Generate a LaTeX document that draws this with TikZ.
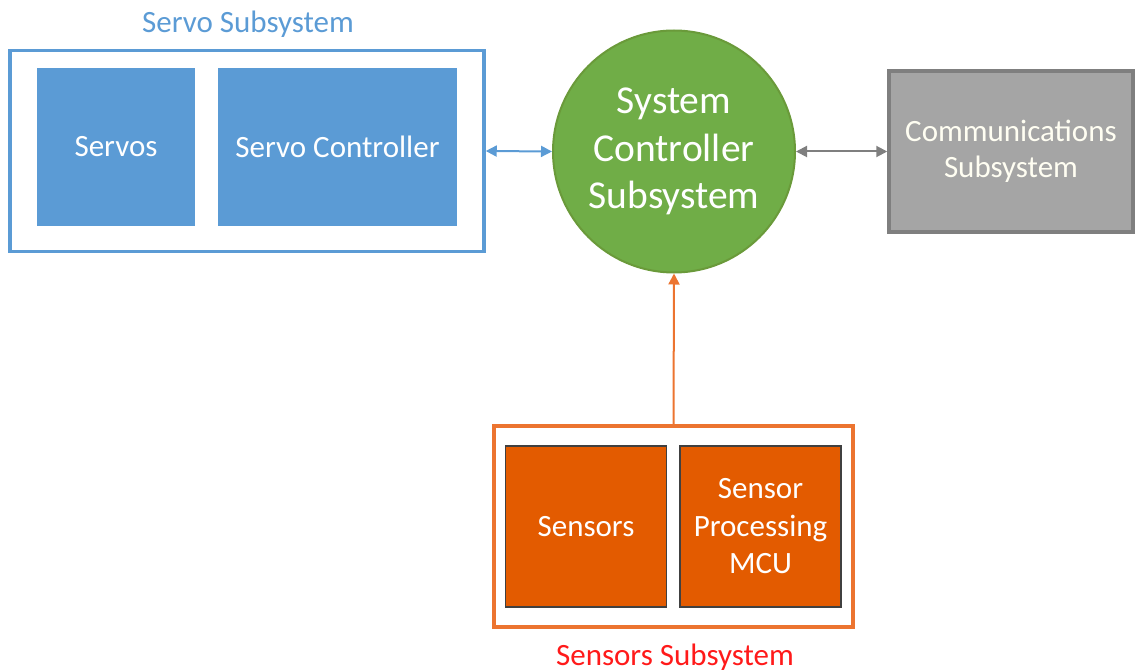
\documentclass[tikz,border=0pt]{standalone}
\usepackage{fontspec}
\setmainfont{Carlito}
\usetikzlibrary{arrows.meta}
\definecolor{servoblue}{HTML}{5B9BD5}
\definecolor{ctrlgreen}{HTML}{70AD47}
\definecolor{ctrlrim}{HTML}{6A9A3A}
\definecolor{commgray}{HTML}{A5A5A5}
\definecolor{commrim}{HTML}{7F7F7F}
\definecolor{sensorfill}{HTML}{E35B00}
\definecolor{sensorrim}{HTML}{EC7430}
\definecolor{labelred}{HTML}{FF1A1A}

\begin{document}
\begin{tikzpicture}[x=1pt, y=-1pt, >={Triangle[length=11pt,width=11pt]},
  txt/.style={font=\fontsize{31}{37}\selectfont, align=center, inner sep=0pt},
  servobox/.style={txt, fill=servoblue, text=white, minimum height=158pt},
  sensorbox/.style={txt, fill=sensorfill, draw=black!75, line width=1.5pt, text=white,
    minimum width=161pt, minimum height=161pt},
  groupbox/.style={draw=#1, line width=3.5pt, fill=white, minimum height=201pt}]
\useasboundingbox (0,0) rectangle (1138,671);
\node[groupbox=servoblue, minimum width=474pt] (servosys) at (247,151) {};
\node[servobox, minimum width=158pt] (servos) at (116,147) {Servos};
\node[servobox, minimum width=239pt] (servoctl) at (337.5,147) {Servo Controller};
\node[txt, anchor=base, text=servoblue] (servolabel) at (248,33) {Servo Subsystem};
\node[circle, fill=ctrlgreen, draw=ctrlrim, line width=2pt, minimum size=242pt,
  text=white, align=center, inner sep=0pt, font=\fontsize{39.5}{47.5}\selectfont]
  (ctrl) at (674,151.5) {System\\Controller\\Subsystem};
\node[txt, fill=commgray, draw=commrim, line width=3.5pt, text=white!95!yellow,
  minimum width=244pt, minimum height=161pt, font=\fontsize{31}{36}\selectfont]
  (comm) at (1011,151.5) {Communications\\Subsystem};
\node[groupbox=sensorrim, minimum width=359pt] (sensorsys) at (673.5,526.5) {};
\node[sensorbox] (sensors) at (586,526.5) {Sensors};
\node[sensorbox, font=\fontsize{31}{37.5}\selectfont] (spmcu) at (760.5,526.5) {Sensor\\Processing\\MCU};
\node[txt, anchor=base, text=labelred] (sensorlabel) at (675,665) {Sensors Subsystem};
\draw[<->, servoblue, line width=2pt] (servosys.east) -- (ctrl.west);
\draw[<->, commrim, line width=2pt] (ctrl.east) -- (comm.west);
\draw[->, sensorrim, line width=2pt] (sensorsys.north) -- (ctrl.south);
\end{tikzpicture}
\end{document}
